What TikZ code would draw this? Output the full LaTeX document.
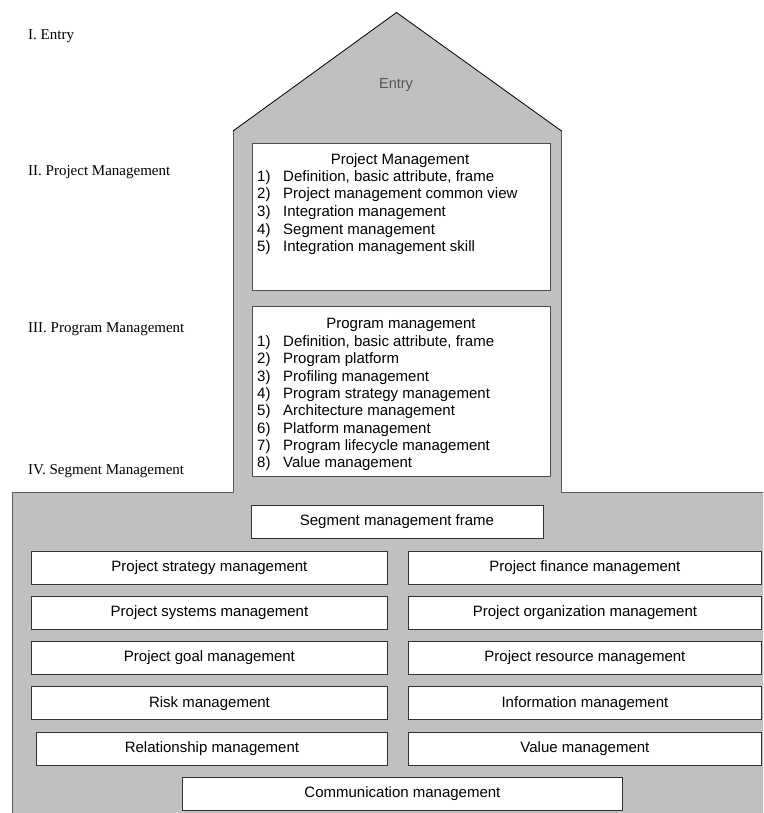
\documentclass[tikz,border=0pt]{standalone}
\usepackage{fontspec}
\setmainfont{Liberation Serif}
\setsansfont{Liberation Sans}
\definecolor{wallgray}{RGB}{192,192,192}
\definecolor{edgegray}{RGB}{90,90,90}
\definecolor{entrygray}{RGB}{85,85,85}
\begin{document}
\begin{tikzpicture}[x=1pt,y=-1pt,
  level/.style={font=\fontsize{15}{18}\selectfont\rmfamily, inner sep=0pt, anchor=base west},
  card/.style={draw=black!80, line width=0.9pt, fill=white, anchor=north west, inner sep=0pt,
    font=\fontsize{15}{18}\sffamily, text height=10.7pt, text depth=3.2pt},
  panel/.style={draw=black!70, line width=0.9pt, fill=white, anchor=north west, inner sep=0pt},
  heading/.style={font=\fontsize{15}{18}\sffamily, inner sep=0pt, anchor=base},
  itemlist/.style={align=left, inner sep=0pt, anchor=north west}]
\useasboundingbox (0,0) rectangle (763,813);

% building: base, walls and roof
\begin{scope}
  \clip (0,0) rectangle (763,813);
  \fill[wallgray] (12,492.5) rectangle (775,825);
  \draw[edgegray, line width=1pt] (12,825) -- (12,492.5) -- (775,492.5);
  \fill[wallgray] (233,131) rectangle (561.5,492.5);
  \draw[edgegray, line width=1pt] (233,492.5) -- (233,131) -- (561.5,131) -- (561.5,492.5);
  \draw[fill=wallgray, line width=0.8pt, line join=miter] (233,131) -- (396.5,12.5) -- (561.5,131);
\end{scope}

% roof label
\node[heading, font=\fontsize{14.5}{17}\sffamily, text=entrygray] (entry) at (396,88.5) {Entry};

% level captions on the left
\node[level] (lvl1) at (28,40) {I. Entry};
\node[level] (lvl2) at (28,175.5) {II. Project Management};
\node[level] (lvl3) at (28,332.5) {III. Program Management};
\node[level] (lvl4) at (28,474.5) {IV. Segment Management};

% project management panel
\node[panel, minimum width=298.5pt, minimum height=146pt] (pmbox) at (251.5,143.5) {};
\node[heading] (pmtitle) at (400,164.5) {Project Management};
\node[itemlist, font=\fontsize{15}{17.7}\selectfont\sffamily] (pmlist) at (257,170) {%
  \makebox[26pt][l]{1)}Definition, basic attribute, frame\\
  \makebox[26pt][l]{2)}Project management common view\\
  \makebox[26pt][l]{3)}Integration management\\
  \makebox[26pt][l]{4)}Segment management\\
  \makebox[26pt][l]{5)}Integration management skill};

% program management panel
\node[panel, minimum width=298.5pt, minimum height=170pt] (pgbox) at (251.5,306) {};
\node[heading] (pgtitle) at (401,328.5) {Program management};
\node[itemlist, font=\fontsize{15}{17.3}\selectfont\sffamily] (pglist) at (257,335.5) {%
  \makebox[26pt][l]{1)}Definition, basic attribute, frame\\
  \makebox[26pt][l]{2)}Program platform\\
  \makebox[26pt][l]{3)}Profiling management\\
  \makebox[26pt][l]{4)}Program strategy management\\
  \makebox[26pt][l]{5)}Architecture management\\
  \makebox[26pt][l]{6)}Platform management\\
  \makebox[26pt][l]{7)}Program lifecycle management\\
  \makebox[26pt][l]{8)}Value management};

% segment management blocks
\node[card, minimum width=292pt, minimum height=33pt] (frame) at (250.5,505) {Segment management frame};

\node[card, minimum width=356pt, minimum height=33pt] (strategy) at (31,550.5) {Project strategy management};
\node[card, minimum width=353pt, minimum height=33pt] (finance) at (408,550.5) {Project finance management};

\node[card, minimum width=356pt, minimum height=33pt] (systems) at (31,595.8) {Project systems management};
\node[card, minimum width=353pt, minimum height=33pt] (organization) at (408,595.8) {Project organization management};

\node[card, minimum width=356pt, minimum height=33pt] (goal) at (31,641.1) {Project goal management};
\node[card, minimum width=353pt, minimum height=33pt] (resource) at (408,641.1) {Project resource management};

\node[card, minimum width=356pt, minimum height=33pt] (risk) at (31,686.4) {Risk management};
\node[card, minimum width=353pt, minimum height=33pt] (information) at (408,686.4) {Information management};

\node[card, minimum width=351pt, minimum height=33pt] (relationship) at (36,731.7) {Relationship management};
\node[card, minimum width=353pt, minimum height=33pt] (value) at (408,731.7) {Value management};

\node[card, minimum width=440pt, minimum height=33pt] (communication) at (182,777) {Communication management};
\end{tikzpicture}
\end{document}
